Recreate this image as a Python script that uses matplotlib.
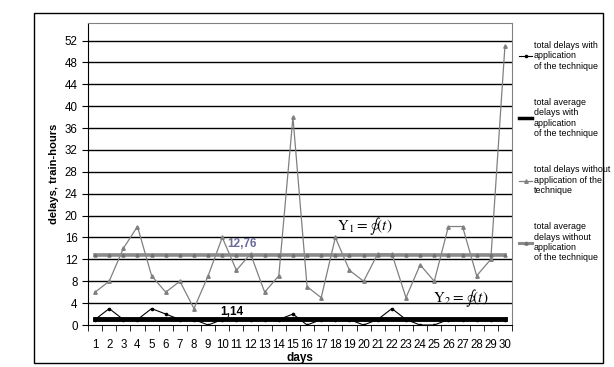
import matplotlib

matplotlib.use("Agg")

import matplotlib.pyplot as plt  # noqa: E402
from matplotlib.lines import Line2D  # noqa: E402
from matplotlib.patches import Rectangle  # noqa: E402

plt.rcParams["font.family"] = ["Liberation Sans", "DejaVu Sans"]
plt.rcParams["mathtext.fontset"] = "stix"

days = list(range(1, 31))
delays_with = [1, 3, 1, 1, 3, 2, 1, 1, 0, 1,
               1, 1, 1, 1, 2, 0, 1, 1, 1, 0,
               1, 3, 1, 0, 0, 1, 1, 1, 1, 1]
delays_without = [6, 8, 14, 18, 9, 6, 8, 3, 9, 16,
                  10, 13, 6, 9, 38, 7, 5, 16, 10, 8,
                  13, 13, 5, 11, 8, 18, 18, 9, 12, 51]
avg_with = 1.14
avg_without = 12.76
y_ticks = list(range(0, 53, 4))

labels = [
    "total delays with\napplication\nof the technique",
    "total average\ndelays with\napplication\nof the technique",
    "total delays without\napplication of the\ntechnique",
    "total average\ndelays without\napplication\nof the technique",
]

fig = plt.figure(figsize=(6.14, 3.67), dpi=100)
ax = fig.add_axes([88 / 614, 1 - 325 / 367, 424 / 614, 302 / 367])

# outer frame
fig.patches.append(Rectangle((34 / 614, 1 - 363 / 367), 569 / 614, 350 / 367,
                             transform=fig.transFigure, fill=False,
                             edgecolor="black", linewidth=1.0))

for y in y_ticks[1:]:
    ax.axhline(y, color="black", linewidth=1.0, zorder=1)

ax.plot(days, delays_without, color="#808080", linewidth=0.9, marker="^",
        markersize=2.5, zorder=3)
ax.plot(days, [avg_without] * len(days), color="#8a8a8a", linewidth=2.6,
        marker="^", markersize=2.2, markerfacecolor="#707070",
        markeredgecolor="#707070", zorder=3)
ax.plot(days, delays_with, color="black", linewidth=0.8, marker="o",
        markersize=1.6, zorder=4)
ax.plot(days, [avg_with] * len(days), color="black", linewidth=3.5,
        marker="o", markersize=1.5, zorder=4)

ax.text(11.4, 14.8, "12,76", color="#6b6b9a", fontsize=8.5, fontweight="bold",
        ha="center", va="center", zorder=5)
ax.text(10.7, 2.3, "1,14", color="black", fontsize=8.5, fontweight="bold",
        ha="center", va="center", zorder=5)
ax.text(20.1, 18.1, r"$\mathrm{Y}_1 = \oint(t)$", fontsize=11,
        ha="center", va="center", zorder=5)
ax.text(26.9, 4.9, r"$\mathrm{Y}_2 = \oint(t)$", fontsize=11,
        ha="center", va="center", zorder=5)

ax.set_xlim(0.5, 30.5)
ax.set_ylim(0, 55.2)
ax.set_yticks(y_ticks)
ax.set_xticks(days)
ax.set_xticks([d + 0.5 for d in range(0, 31)], minor=True)
ax.tick_params(axis="x", which="major", length=0, labelsize=8.3, pad=10)
ax.tick_params(axis="x", which="minor", length=4, direction="out")
ax.tick_params(axis="y", length=4, direction="out", labelsize=8.3)

for side in ("top", "right"):
    ax.spines[side].set_color("#808080")
ax.spines["left"].set_color("black")
ax.spines["bottom"].set_color("black")

ax.set_ylabel("delays, train-hours", fontsize=8, fontweight="bold", labelpad=4)
ax.set_xlabel("days", fontsize=8.5, fontweight="bold", labelpad=1)

handles = [
    Line2D([], [], color="black", linewidth=0.8, marker="o", markersize=1.6),
    Line2D([], [], color="black", linewidth=2.5),
    Line2D([], [], color="#808080", linewidth=0.9, marker="^", markersize=2.5),
    Line2D([], [], color="#8a8a8a", linewidth=2.2, marker="^", markersize=2.2,
           markerfacecolor="#707070", markeredgecolor="#707070"),
]
fig.legend(handles, labels, loc="upper left", bbox_to_anchor=(519 / 614, 1 - 41 / 367),
           frameon=False, fontsize=6.4, handlelength=1.5, handletextpad=0.2,
           labelspacing=3.05, borderaxespad=0, borderpad=0)

fig.savefig("out.png", dpi=100)
